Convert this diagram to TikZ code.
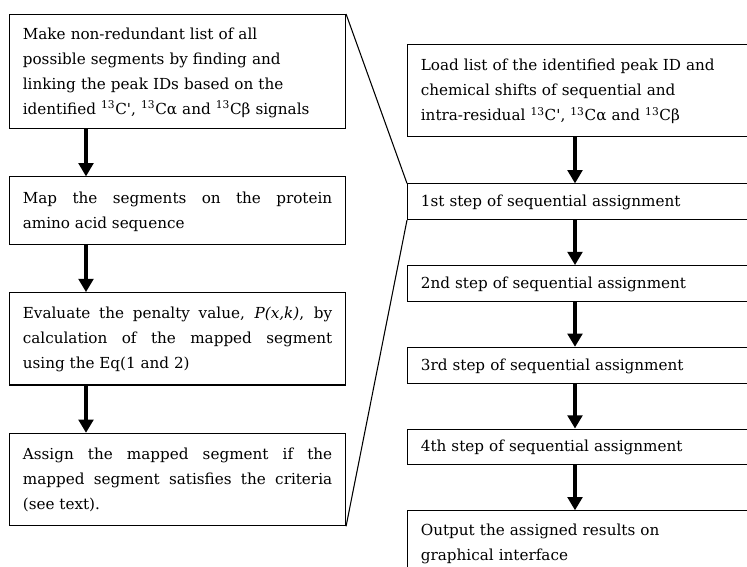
\documentclass[tikz,border=0pt]{standalone}
\usepackage{fontspec}
\setmainfont{DejaVu Serif}
\usepackage{tikz}
\usetikzlibrary{positioning,arrows.meta}

\begin{document}
\begin{tikzpicture}
        \tikzstyle{every node}=[draw, line width=0.8pt, inner xsep=10pt, inner ysep=6.5pt,
            font=\fontsize{11.4pt}{18.75pt}\selectfont,
            execute at begin node=\strut, execute at end node=\strut]
        \tikzstyle{leftbox}=[text width=232pt, align=justify]
        \tikzstyle{rightbox}=[text width=250pt, align=left]
        \tikzstyle{onerow}=[inner ysep=4pt]
        \tikzstyle{flowarrow}=[line width=3.2pt, -{Triangle[width=11pt,length=10pt]}]

        \useasboundingbox (0,0) rectangle (560.25pt,-425.25pt);
        \clip (0,0) rectangle (560.25pt,-425.25pt);

        % left column
        \node (make) [leftbox, align=left, inner ysep=5.25pt, anchor=north west] at (6.75pt,-10.5pt)
            {Make non-redundant list of all\\ possible segments by finding and\\ linking the peak IDs based on the\\ identified \textsuperscript{13}C\textquotesingle, \textsuperscript{13}Cα and \textsuperscript{13}Cβ signals};
        \node (map) [leftbox, below=35.5pt of make]
            {Map the segments on the protein\linebreak amino acid sequence};
        \node (eval) [leftbox, below=35.5pt of map]
            {Evaluate the penalty value, \textit{P(x,k)}, by\linebreak calculation of the mapped segment\linebreak using the Eq(1 and 2)};
        \node (assign) [leftbox, below=35.5pt of eval]
            {Assign the mapped segment if the\linebreak mapped segment satisfies the criteria\linebreak (see text).};

        % right column
        \node (load) [rightbox, anchor=north west] at (305.25pt,-33pt)
            {Load list of the identified peak ID and\\ chemical shifts of sequential and\\ intra-residual \textsuperscript{13}C\textquotesingle, \textsuperscript{13}Cα and \textsuperscript{13}Cβ};
        \node (s1) [rightbox, onerow, below=34.5pt of load] {1st step of sequential assignment};
        \node (s2) [rightbox, onerow, below=33.75pt of s1] {2nd step of sequential assignment};
        \node (s3) [rightbox, onerow, below=33.75pt of s2] {3rd step of sequential assignment};
        \node (s4) [rightbox, onerow, below=33.75pt of s3] {4th step of sequential assignment};
        \node (out) [rightbox, inner ysep=5pt, below=33.75pt of s4] {Output the assigned results on\\ graphical interface};

        \draw[flowarrow] ([xshift=57.75pt]make.south west) -- ([xshift=57.75pt]map.north west);
        \draw[flowarrow] ([xshift=57.75pt]map.south west) -- ([xshift=57.75pt]eval.north west);
        \draw[flowarrow] ([xshift=57.75pt]eval.south west) -- ([xshift=57.75pt]assign.north west);

        \draw[flowarrow] ([xshift=126pt]load.south west) -- ([xshift=126pt]s1.north west);
        \draw[flowarrow] ([xshift=126pt]s1.south west) -- ([xshift=126pt]s2.north west);
        \draw[flowarrow] ([xshift=126pt]s2.south west) -- ([xshift=126pt]s3.north west);
        \draw[flowarrow] ([xshift=126pt]s3.south west) -- ([xshift=126pt]s4.north west);
        \draw[flowarrow] ([xshift=126pt]s4.south west) -- ([xshift=126pt]out.north west);

        \draw[line width=0.8pt] (make.north east) -- (s1.north west);
        \draw[line width=0.8pt] (assign.south east) -- (s1.south west);

    \end{tikzpicture}
\end{document}
